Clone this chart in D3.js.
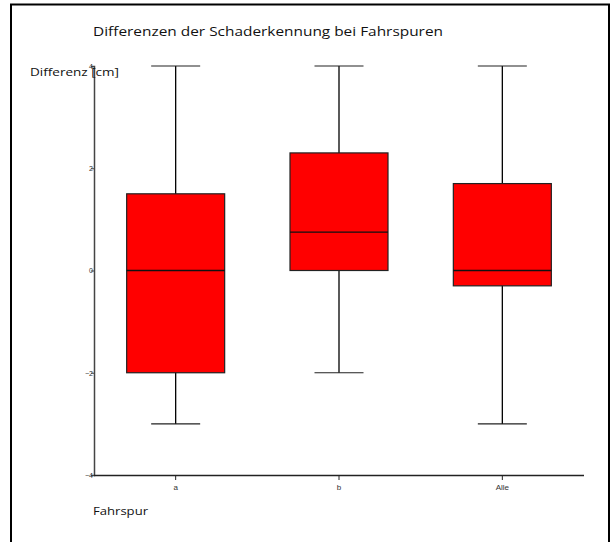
<html>
  <head>
    <script src="https://cdn.jsdelivr.net/npm/d3@7" charset="utf-8"></script>
    <style>
      body { margin: 0; background: #fff; }
    </style>
  </head>
  <body>
    <div id="main"></div>
  <script>
    var svgWidth = 611;
    var svgHeight = 542;

    // data
    var categories = ["a", "b", "Alle"];
    var whiskerMax = [4, 4, 4];
    var q3 = [1.5, 2.3, 1.7];
    var median = [0, 0.75, 0];
    var q1 = [-2, 0, -0.3];
    var whiskerMin = [-3, -2, -3];
    var yTicks = [-4, -2, 0, 2, 4];

    var svg = d3.select("#main").append("svg")
      .attr("width", svgWidth)
      .attr("height", svgHeight);

    // outer frame (partly cut off at the bottom/right)
    svg.append("rect")
      .attr("x", 11).attr("y", 4.5)
      .attr("width", 598).attr("height", 600)
      .style("fill", "none").style("stroke", "#000").style("stroke-width", 2);

    var y = d3.scaleLinear().domain([-4, 4]).range([475, 66]);
    var x = d3.scaleBand().domain(categories).range([94, 584]).paddingInner(0.4).paddingOuter(0.2);

    // y axis
    var yAxis = svg.append("g").attr("transform", "translate(94,0)")
      .call(d3.axisLeft(y).tickValues(yTicks).tickSize(3).tickFormat(d3.format("d")));
    yAxis.select(".domain").style("stroke", "#444").style("stroke-width", 1.5);
    yAxis.selectAll(".tick line").style("stroke", "#444");
    yAxis.selectAll(".tick text")
      .attr("x", -1).attr("dy", "0.35em")
      .style("text-anchor", "end")
      .style("font-family", "Liberation Sans, Arial, sans-serif")
      .style("font-size", "7px")
      .style("fill", "#333");

    // x axis
    var xAxis = svg.append("g").attr("transform", "translate(0,475)")
      .call(d3.axisBottom(x).tickSizeInner(5).tickSizeOuter(0));
    xAxis.select(".domain").attr("d", "M94,0.5H584").style("stroke", "#222").style("stroke-width", 1.5);
    xAxis.selectAll(".tick line").style("stroke", "#222");
    xAxis.selectAll(".tick text")
      .attr("y", 9)
      .style("font-family", "Liberation Sans, Arial, sans-serif")
      .style("font-size", "8px")
      .style("fill", "#333");

    // boxes
    var bw = x.bandwidth();
    var boxes = svg.selectAll(".box").data(categories).enter().append("g").attr("class", "box");

    boxes.append("line")
      .attr("x1", function(d) { return x(d) + bw / 2; })
      .attr("x2", function(d) { return x(d) + bw / 2; })
      .attr("y1", function(d, i) { return y(whiskerMax[i]); })
      .attr("y2", function(d, i) { return y(whiskerMin[i]); })
      .style("stroke", "#000").style("stroke-width", 1.3);

    [whiskerMax, whiskerMin].forEach(function(arr) {
      boxes.append("line")
        .attr("x1", function(d) { return x(d) + bw / 4; })
        .attr("x2", function(d) { return x(d) + bw * 3 / 4; })
        .attr("y1", function(d, i) { return y(arr[i]); })
        .attr("y2", function(d, i) { return y(arr[i]); })
        .style("stroke", "#222").style("stroke-width", 1.2);
    });

    boxes.append("rect")
      .attr("x", function(d) { return x(d); })
      .attr("width", bw)
      .attr("y", function(d, i) { return y(q3[i]); })
      .attr("height", function(d, i) { return y(q1[i]) - y(q3[i]); })
      .style("fill", "#ff0000").style("stroke", "#222").style("stroke-width", 1.2);

    boxes.append("line")
      .attr("x1", function(d) { return x(d); })
      .attr("x2", function(d) { return x(d) + bw; })
      .attr("y1", function(d, i) { return y(median[i]); })
      .attr("y2", function(d, i) { return y(median[i]); })
      .style("stroke", "#111").style("stroke-width", 1.3);

    // texts
    var font = "Open Sans, sans-serif";
    svg.append("text").attr("x", 93).attr("y", 36)
      .attr("textLength", 350).attr("lengthAdjust", "spacingAndGlyphs")
      .style("font-family", font).style("font-size", "13px").style("fill", "#111")
      .text("Differenzen der Schaderkennung bei Fahrspuren");
    svg.append("text").attr("x", 30).attr("y", 76)
      .attr("textLength", 89).attr("lengthAdjust", "spacingAndGlyphs")
      .style("font-family", font).style("font-size", "11px").style("fill", "#111")
      .text("Differenz [cm]");
    svg.append("text").attr("x", 93).attr("y", 515)
      .attr("textLength", 55).attr("lengthAdjust", "spacingAndGlyphs")
      .style("font-family", font).style("font-size", "11px").style("fill", "#111")
      .text("Fahrspur");
  </script>
  </body>
</html>
